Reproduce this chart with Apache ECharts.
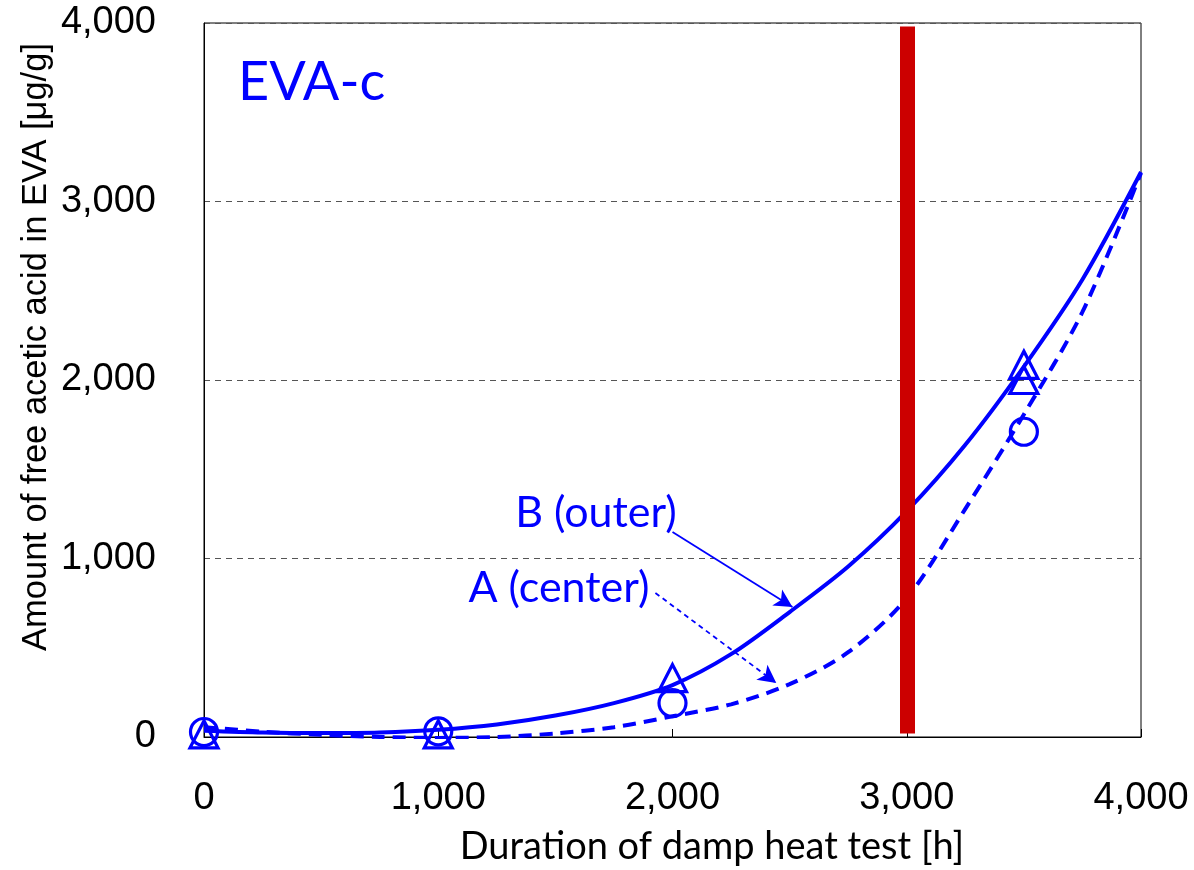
<!DOCTYPE html>
<html>
<head>
<meta charset="utf-8">
<script src="https://cdn.jsdelivr.net/npm/echarts@6/dist/echarts.min.js"></script>
<style>html,body{margin:0;padding:0;background:#fff}#c{width:1194px;height:870px}</style>
</head>
<body>
<div id="c"></div>
<script>
// ---- data ----
const xTicks = [0, 1000, 2000, 3000, 4000];
const yTicks = [0, 1000, 2000, 3000, 4000];
// measured points
const pointsB = [[0, 15], [1000, 15], [2000, 330], [3500, 2000], [3500, 2085]];   // triangles, B (outer)
const pointsA = [[0, 28], [1000, 32], [2000, 190], [3500, 1710]];                 // circles, A (center)
// fitted curves
const fitX = [0, 250, 500, 750, 1000, 1250, 1500, 1750, 2000, 2250, 2500, 2750, 3000, 3250, 3500, 3750, 4000];
const fitB = [35, 25, 22, 25, 40, 70, 120, 190, 291, 464, 700, 955, 1265, 1637, 2075, 2563, 3165];
const fitA = [55, 30, 12, 0, -5, 0, 20, 55, 116, 183, 296, 475, 778, 1278, 1807, 2381, 3160];
// reference line
const refX = 3000;
// annotation arrows [from, to] in data units
const arrowB = [[2000, 1148], [2512, 728]];
const arrowA = [[1927, 807], [2443, 302]];

const blue = '#0000FF';
const chart = echarts.init(document.getElementById('c'));
const fmt = v => v.toLocaleString('en-US');

chart.setOption({
  animation: false,
  grid: { left: 204, top: 23, right: 53, bottom: 133, show: true, borderColor: '#000', borderWidth: 1 },
  xAxis: {
    type: 'value', min: xTicks[0], max: xTicks[xTicks.length - 1], interval: 1000,
    axisLine: { show: true, onZero: false, lineStyle: { color: '#000', width: 1 } },
    axisTick: { show: true, inside: true, length: 8, lineStyle: { color: '#000' } },
    axisLabel: { color: '#000', fontFamily: 'Liberation Sans', fontSize: 38, margin: 43, formatter: fmt },
    splitLine: { show: false }
  },
  yAxis: {
    type: 'value', min: yTicks[0], max: yTicks[yTicks.length - 1], interval: 1000,
    axisLine: { show: true, lineStyle: { color: '#000', width: 1 } },
    axisTick: { show: false },
    axisLabel: { color: '#000', fontFamily: 'Liberation Sans', fontSize: 38, margin: 48, formatter: fmt },
    splitLine: { show: true, lineStyle: { color: '#555', type: [6, 5], width: 1 } }
  },
  graphic: [
    { type: 'text', x: 36, y: 347, rotation: Math.PI / 2,
      style: { text: 'Amount of free acetic acid in EVA [μg/g]', fill: '#000', font: '34.5px "Liberation Sans"', textAlign: 'center', textVerticalAlign: 'middle' } },
    { type: 'text', x: 712, y: 847,
      style: { text: 'Duration of damp heat test [h]', fill: '#000', font: '38px Lato', textAlign: 'center', textVerticalAlign: 'middle' } },
    { type: 'text', x: 238, y: 83,
      style: { text: 'EVA-c', fill: blue, font: '54px Lato', textAlign: 'left', textVerticalAlign: 'middle' } },
    { type: 'text', x: 596, y: 513,
      style: { text: 'B (outer)', fill: blue, font: '43px Lato', textAlign: 'center', textVerticalAlign: 'middle' } },
    { type: 'text', x: 559, y: 588,
      style: { text: 'A (center)', fill: blue, font: '43px Lato', textAlign: 'center', textVerticalAlign: 'middle' } }
  ],
  series: [
    {
      name: 'B fit', type: 'line', data: fitX.map((x, i) => [x, fitB[i]]), smooth: 0.3,
      showSymbol: false, lineStyle: { color: blue, width: 4 }, z: 3,
      markLine: {
        silent: true, symbol: ['none', 'arrow'], symbolSize: [14, 18], label: { show: false },
        lineStyle: { color: blue, width: 1.8, type: 'solid' },
        data: [[{ coord: arrowB[0] }, { coord: arrowB[1] }]]
      }
    },
    {
      name: 'A fit', type: 'line', data: fitX.map((x, i) => [x, fitA[i]]), smooth: 0.3,
      showSymbol: false, lineStyle: { color: blue, width: 4, type: [13, 8] }, z: 3,
      markLine: {
        silent: true, symbol: ['none', 'arrow'], symbolSize: [14, 18], label: { show: false },
        lineStyle: { color: blue, width: 1.8, type: [5, 4] },
        data: [[{ coord: arrowA[0] }, { coord: arrowA[1] }]]
      }
    },
    {
      name: 'B (outer)', type: 'scatter', data: pointsB, symbol: 'triangle', symbolSize: [28, 27],
      itemStyle: { color: 'rgba(255,255,255,0)', borderColor: blue, borderWidth: 3.2, opacity: 1 }, z: 4
    },
    {
      name: 'A (center)', type: 'scatter', data: pointsA, symbol: 'circle', symbolSize: 27,
      itemStyle: { color: 'rgba(255,255,255,0)', borderColor: blue, borderWidth: 3.2, opacity: 1 }, z: 4
    },
    {
      name: 'ref', type: 'line', data: [], z: 10,
      markLine: {
        silent: true, symbol: ['none', 'none'], label: { show: false },
        lineStyle: { color: '#CC0000', width: 15, type: 'solid' },
        data: [[{ coord: [refX, 20] }, { coord: [refX, 3980] }]]
      }
    }
  ]
});
</script>
</body>
</html>
